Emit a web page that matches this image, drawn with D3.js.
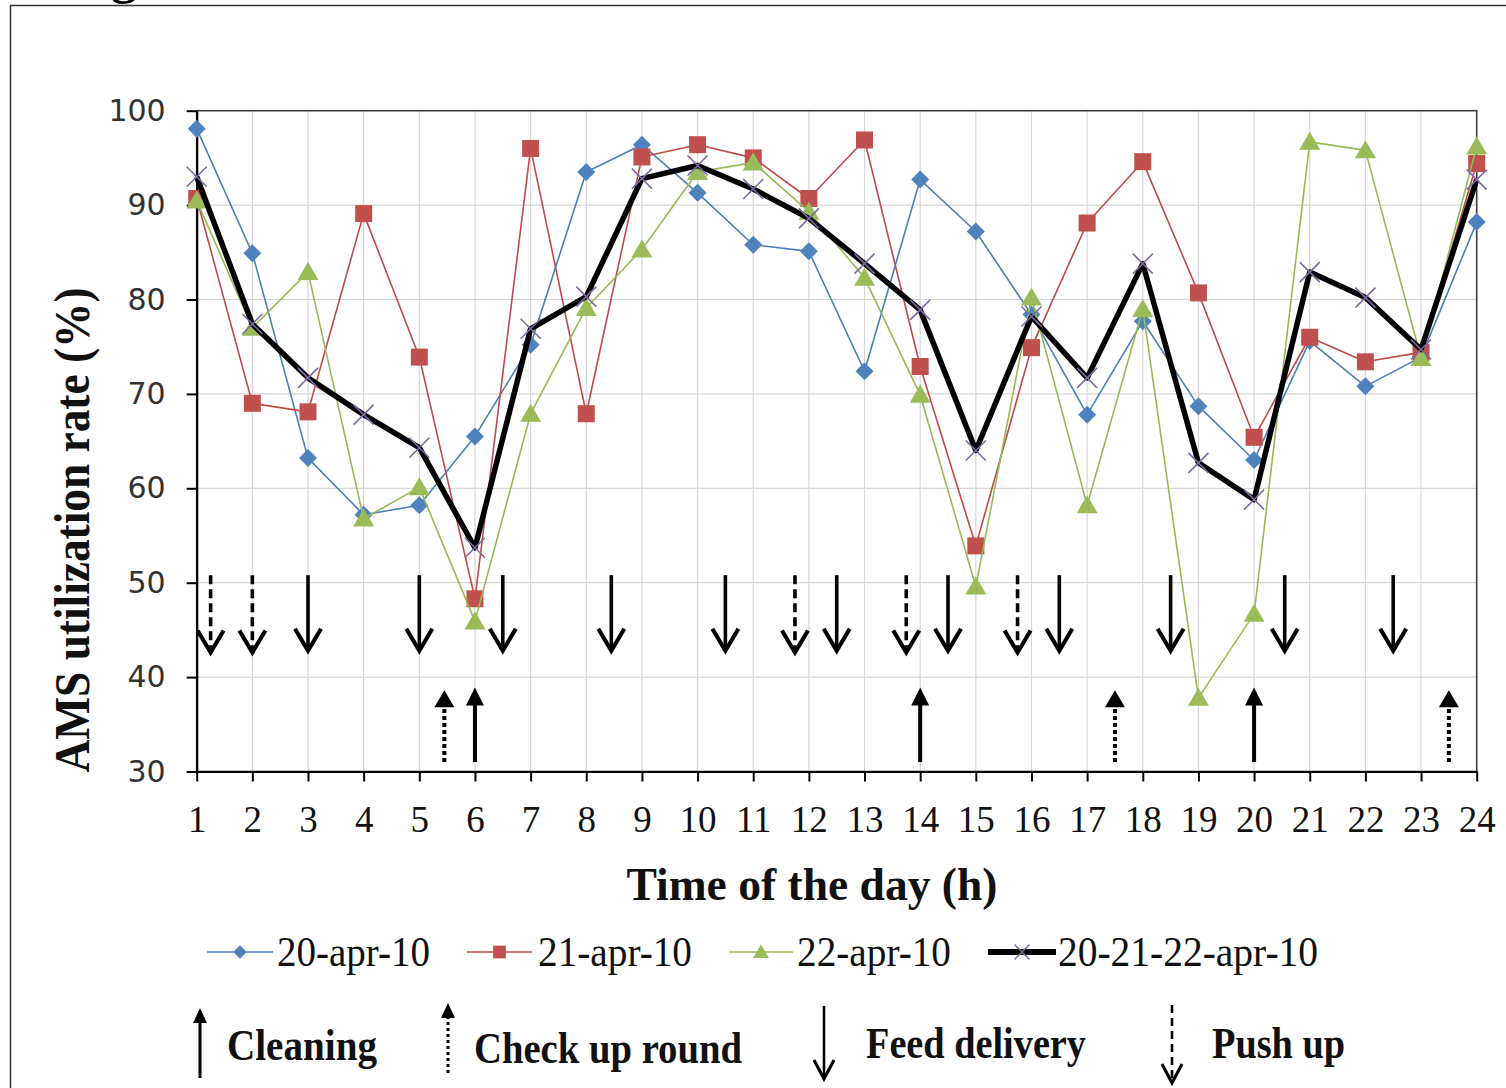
<!DOCTYPE html>
<html>
<head>
<meta charset="utf-8">
<script src="https://cdn.jsdelivr.net/npm/d3@7"></script>
<style>
  html, body { margin: 0; padding: 0; background: #fff; }
  svg { display: block; }
</style>
</head>
<body>
<div id="chart"></div>
<script>
/* AMS utilization rate per hour of the day, three days + their mean */
const hours = [1, 2, 3, 4, 5, 6, 7, 8, 9, 10, 11, 12, 13, 14, 15, 16, 17, 18, 19, 20, 21, 22, 23, 24];
const apr20 = [98.1, 84.9, 63.2, 57.2, 58.2, 65.5, 75.2, 93.5, 96.4, 91.3, 85.8, 85.1, 72.4, 92.7, 87.2, 78.4, 67.8, 77.7, 68.7, 63.0, 75.6, 70.8, 73.9, 88.2];
const apr21 = [90.7, 69.0, 68.1, 89.1, 73.9, 48.3, 96.0, 67.9, 95.1, 96.4, 95.0, 90.7, 96.9, 72.9, 53.9, 74.9, 88.1, 94.6, 80.7, 65.4, 76.0, 73.4, 74.4, 94.4];
const apr22 = [90.5, 77.0, 82.9, 56.8, 60.1, 45.9, 67.9, 79.1, 85.3, 93.5, 94.5, 89.3, 82.3, 69.9, 49.6, 80.2, 58.2, 79.0, 37.8, 46.7, 96.7, 95.8, 73.8, 96.2];
const apr20to22 = [93.0, 77.4, 71.7, 67.8, 64.3, 53.7, 76.9, 80.3, 92.8, 94.2, 91.7, 88.6, 83.8, 78.9, 64.0, 78.2, 71.7, 83.8, 62.7, 58.8, 82.9, 80.2, 74.7, 92.7];
const seriesNames = ['20-apr-10', '21-apr-10', '22-apr-10', '20-21-22-apr-10'];
const yTicks = [30, 40, 50, 60, 70, 80, 90, 100];

// management events (hour of the day)
const cleaning = [6, 14, 20];
const checkUpRound = [5.45, 17.5, 23.5];
const feedDelivery = [3, 5, 6.5, 8.45, 10.5, 12.5, 14.5, 16.5, 18.5, 20.55, 22.5];
const pushUp = [1.25, 2, 11.75, 13.75, 15.75];
const eventNames = ['Cleaning', 'Check up round', 'Feed delivery', 'Push up'];

const W = 1506, H = 1088;
const SERIF = '"Liberation Serif", "Times New Roman", serif';

const svg = d3.select('#chart').append('svg').attr('width', W).attr('height', H);
svg.append('rect').attr('width', W).attr('height', H).attr('fill', '#fff');

// remains of the figure caption above the frame
svg.append('text').attr('x', 124).attr('y', -7).attr('text-anchor', 'middle')
  .attr('font-family', SERIF).attr('font-weight', 'bold').attr('font-size', 52).attr('fill', '#000').text('g');

// outer figure frame
svg.append('rect').attr('x', 10.5).attr('y', 5.5).attr('width', W + 20).attr('height', H + 20)
  .attr('fill', 'none').attr('stroke', '#333').attr('stroke-width', 1.5);

const x = d3.scaleLinear().domain([1, 24]).range([196.7, 1476.7]);
const y = d3.scaleLinear().domain([30, 100]).range([771.5, 110.7]);

// grid
const grid = svg.append('g');
grid.selectAll('line.v').data(hours.slice(1, -1)).join('line')
  .attr('x1', d => x(d)).attr('x2', d => x(d)).attr('y1', y(100)).attr('y2', y(30))
  .attr('stroke', '#d6d6d6').attr('stroke-width', 1.2);
grid.selectAll('line.h').data(yTicks.slice(1, -1)).join('line')
  .attr('x1', x(1)).attr('x2', x(24)).attr('y1', d => y(d)).attr('y2', d => y(d))
  .attr('stroke', '#d6d6d6').attr('stroke-width', 1.2);

// plot frame (top / right)
svg.append('rect').attr('x', x(1)).attr('y', y(100)).attr('width', x(24) - x(1)).attr('height', y(30) - y(100))
  .attr('fill', 'none').attr('stroke', '#3a3a3a').attr('stroke-width', 1.6);

// axes
const xAxis = svg.append('g').attr('transform', `translate(0,${y(30)})`)
  .call(d3.axisBottom(x).tickValues(hours).tickFormat(d3.format('d')).tickSize(10).tickSizeOuter(0).tickPadding(24));
xAxis.selectAll('text').attr('font-family', SERIF).attr('font-size', 37).attr('fill', '#111');

const yAxis = svg.append('g').attr('transform', `translate(${x(1)},0)`)
  .call(d3.axisLeft(y).tickValues(yTicks).tickSize(10).tickSizeOuter(0).tickPadding(21));
yAxis.selectAll('text').attr('font-family', '"DejaVu Sans", Verdana, sans-serif').attr('font-size', 30).attr('fill', '#333');

[xAxis, yAxis].forEach(a => {
  a.select('.domain').attr('stroke', '#000').attr('stroke-width', 2.2);
  a.selectAll('.tick line').attr('stroke', '#000').attr('stroke-width', 2);
});

// marker shapes
const shapes = {
  diamond: r => `M0,${-r}L${r},0L0,${r}L${-r},0Z`,
  square: r => `M${-r},${-r}H${r}V${r}H${-r}Z`,
  triangle: r => `M0,${-r}L${r * 1.05},${r * 0.8}L${-r * 1.05},${r * 0.8}Z`,
  cross: r => `M${-r},${-r}L${r},${r}M${r},${-r}L${-r},${r}`
};

const series = [
  { name: seriesNames[0], values: apr20, line: '#4a7ebb', fill: '#4f81bd', width: 1.6, shape: 'diamond', r: 9 },
  { name: seriesNames[1], values: apr21, line: '#be4b48', fill: '#c0504d', width: 1.6, shape: 'square', r: 8.5 },
  { name: seriesNames[2], values: apr22, line: '#98b954', fill: '#9bbb59', width: 1.6, shape: 'triangle', r: 10 },
  { name: seriesNames[3], values: apr20to22, line: '#000', fill: 'none', width: 5.5, shape: 'cross', r: 10, stroke: '#7d6aa6' }
];

const line = d3.line().x((d, i) => x(hours[i])).y(d => y(d));

series.forEach(s => {
  const g = svg.append('g');
  g.append('path').datum(s.values).attr('d', line)
    .attr('fill', 'none').attr('stroke', s.line).attr('stroke-width', s.width)
    .attr('stroke-linejoin', 'round');
  g.selectAll('path.m').data(s.values).join('path')
    .attr('transform', (d, i) => `translate(${x(hours[i])},${y(d)})`)
    .attr('d', shapes[s.shape](s.r))
    .attr('fill', s.fill)
    .attr('stroke', s.stroke || 'none')
    .attr('stroke-width', s.stroke ? 1.6 : 0);
});

// arrows
function upArrow(g, cx, yBase, yTip, dash, sw, hw, hh) {
  g.append('line').attr('x1', cx).attr('x2', cx).attr('y1', yBase).attr('y2', yTip + hh * 0.7)
    .attr('stroke', '#000').attr('stroke-width', sw).attr('stroke-dasharray', dash);
  g.append('path').attr('d', `M${cx},${yTip}L${cx + hw},${yTip + hh}L${cx - hw},${yTip + hh}Z`).attr('fill', '#000');
}
function downArrow(g, cx, yTop, yTip, dash, sw, hw, hh) {
  g.append('line').attr('x1', cx).attr('x2', cx).attr('y1', yTop).attr('y2', yTip - 2)
    .attr('stroke', '#000').attr('stroke-width', sw).attr('stroke-dasharray', dash);
  g.append('path').attr('d', `M${cx - hw},${yTip - hh}L${cx},${yTip}L${cx + hw},${yTip - hh}`)
    .attr('fill', 'none').attr('stroke', '#000').attr('stroke-width', sw + 0.5).attr('stroke-linejoin', 'miter');
}

const ev = svg.append('g');
cleaning.forEach(h => upArrow(ev, x(h), y(31.0), y(38.9), null, 4, 9, 18));
checkUpRound.forEach(h => upArrow(ev, x(h), y(31.0), y(38.6), '4,3', 4, 10, 17));
feedDelivery.forEach(h => downArrow(ev, x(h), y(50.8), y(42.8), null, 3.6, 13, 22));
pushUp.forEach(h => downArrow(ev, x(h), y(50.8), y(42.6), '9,5', 3.6, 13, 22));

// text helper: fitted width
function label(g, txt, tx, ty, size, len, opts = {}) {
  return g.append('text').attr('x', tx).attr('y', ty)
    .attr('font-family', SERIF).attr('font-size', size)
    .attr('font-weight', opts.bold ? 'bold' : 'normal')
    .attr('text-anchor', opts.anchor || 'start')
    .attr('textLength', len).attr('lengthAdjust', 'spacingAndGlyphs')
    .attr('fill', '#111').text(txt);
}

// axis titles
label(svg, 'Time of the day (h)', 812, 900, 47, 371, { bold: true, anchor: 'middle' });
const yt = svg.append('g').attr('transform', 'translate(89,530) rotate(-90)');
label(yt, 'AMS utilization rate (%)', 0, 0, 50, 485, { bold: true, anchor: 'middle' });

// series legend
const lg = svg.append('g');
const legX = [{ x0: 207, x1: 273, t: 277, len: 153 }, { x0: 467, x1: 532, t: 538, len: 154 },
              { x0: 729, x1: 793, t: 797, len: 154 }, { x0: 988, x1: 1056, t: 1058, len: 260 }];
const legY = 952;
series.forEach((s, i) => {
  const p = legX[i];
  lg.append('line').attr('x1', p.x0).attr('x2', p.x1).attr('y1', legY).attr('y2', legY)
    .attr('stroke', s.line).attr('stroke-width', s.width === 5.5 ? 6 : 1.6);
  lg.append('path').attr('transform', `translate(${(p.x0 + p.x1) / 2},${legY})`)
    .attr('d', shapes[s.shape](s.r * 0.75))
    .attr('fill', s.fill).attr('stroke', s.stroke || 'none').attr('stroke-width', s.stroke ? 1.5 : 0);
  label(lg, s.name, p.t, 966, 43, p.len);
});

// events legend
const eg = svg.append('g');
upArrow(eg, 200, 1078, 1008, null, 3, 7, 15);
upArrow(eg, 448, 1073, 1003, '3,3', 3, 7, 15);
downArrow(eg, 824, 1006, 1079, null, 2.6, 10, 19);
downArrow(eg, 1172, 1005, 1083, '8,5', 2.6, 10, 19);
const evLeg = [{ t: 227, len: 150, yb: 1060 }, { t: 474, len: 268, yb: 1063 },
               { t: 866, len: 220, yb: 1058 }, { t: 1212, len: 133, yb: 1058 }];
eventNames.forEach((n, i) => label(eg, n, evLeg[i].t, evLeg[i].yb, 44, evLeg[i].len, { bold: true }));
</script>
</body>
</html>
